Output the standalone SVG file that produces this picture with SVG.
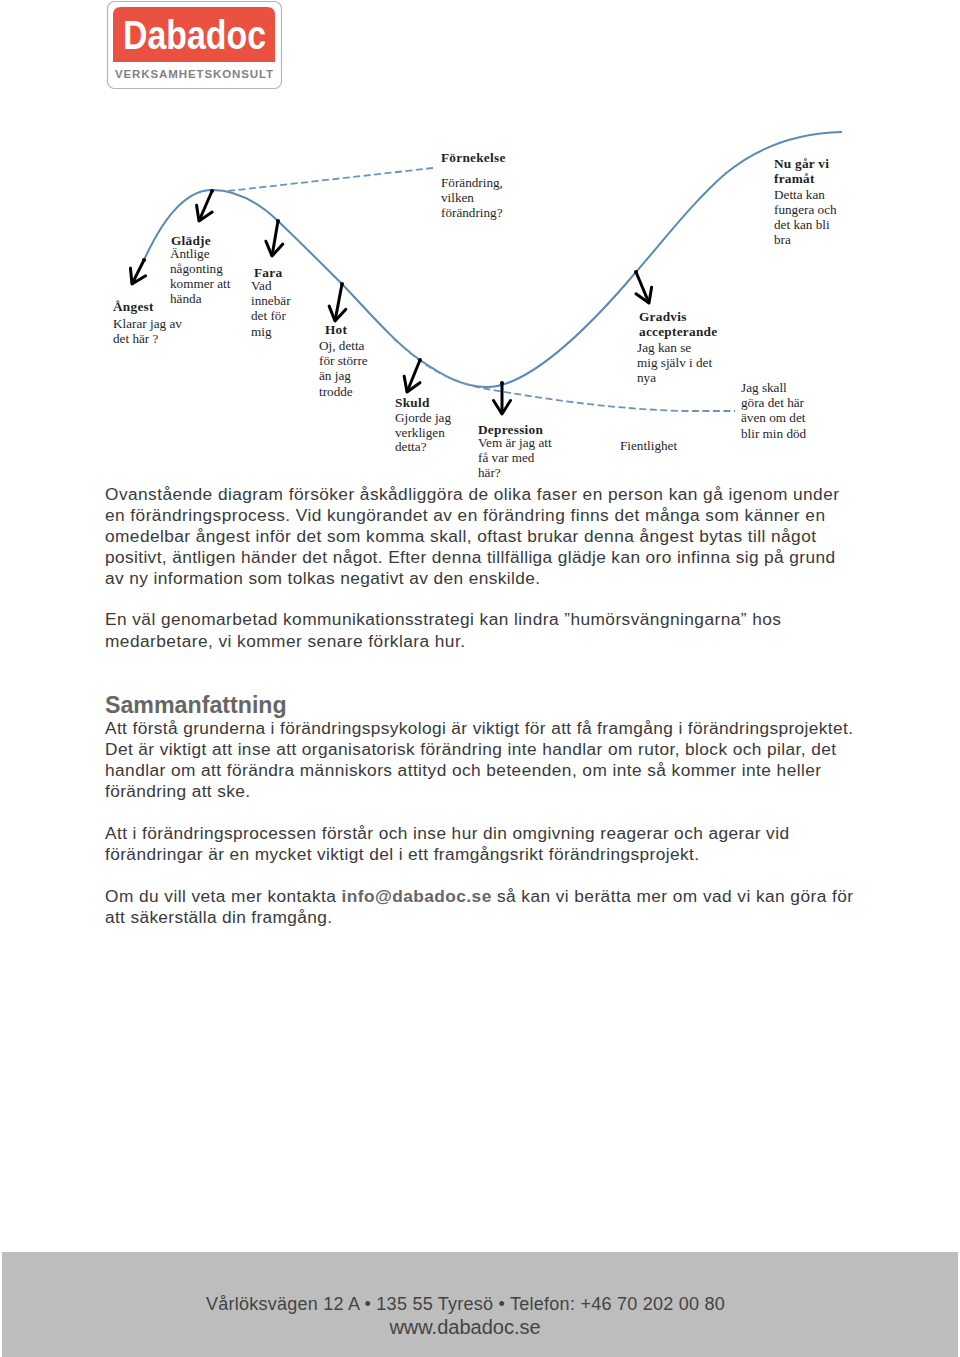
<svg xmlns="http://www.w3.org/2000/svg" width="960" height="1357" viewBox="0 0 960 1357">
<style>
text{font-family:"Liberation Sans",Arial,sans-serif}
.d text{font-family:"Liberation Serif","DejaVu Serif",serif;font-size:13.2px;fill:#1f1f1f}
.d .b{font-weight:bold;font-size:13.3px;letter-spacing:.25px}
.p text{font-size:17.3px;fill:#3a3a3a}
.p .h{font-size:23.2px;font-weight:bold;fill:#666}
.p .m{font-weight:bold;fill:#666}
.curve{fill:none;stroke:#5b88b5;stroke-width:2}
.dash{fill:none;stroke:#6f94bb;stroke-width:1.800;stroke-dasharray:7 3.500}
.arr{fill:none;stroke:#000;stroke-width:3;marker-end:url(#head);marker-start:url(#dot)}
</style>
<defs>
<marker id="head" markerUnits="userSpaceOnUse" markerWidth="30" markerHeight="30" refX="20" refY="15" orient="auto"><path d="M6.500 6.500L20 15L6.500 23.500" fill="none" stroke="#000" stroke-width="3" stroke-linejoin="round" stroke-linecap="round"/></marker>
<marker id="dot" markerUnits="userSpaceOnUse" markerWidth="8" markerHeight="8" refX="4" refY="4"><circle cx="4" cy="4" r="2" fill="#000"/></marker>
</defs>
<rect width="960" height="1357" fill="#fff"/>
<g id="logo">
<rect x="107.500" y="1.500" width="174" height="87" rx="7" fill="#fff" stroke="#b5b5b5" stroke-width="1.200"/>
<path d="M113 62V15Q113 7 121 7H267Q275 7 275 15V62Z" fill="#ea5140"/>
<text x="123" y="48.500" font-size="41" font-weight="bold" fill="#fff" textLength="143" lengthAdjust="spacingAndGlyphs">Dabadoc</text>
<text x="115" y="78" font-size="11.500" font-weight="bold" fill="#808285" textLength="158" lengthAdjust="spacing">VERKSAMHETSKONSULT</text>
</g>
<g id="connectors">
<path class="curve" d="M144 260C160 225 183 190 212 190C235 190 258 202 278 221C300 242 320 262 342 284C368 311 394 342 420 360C442 375 462 387 487 387C526 387 583 335 636 272C664 240 692 203 725 174C760 145 800 133 842 132"/>
<path class="dash" d="M228 191L433 168"/>
<path class="dash" d="M393 338C402 346 412 355 422 362C440 375 462 385 487 389C540 398 600 408 680 411L735 411"/>
<path class="arr" d="M144 260L132 284"/>
<path class="arr" d="M212 191L199 221"/>
<path class="arr" d="M278 221L272 256"/>
<path class="arr" d="M342 284L335 321"/>
<path class="arr" d="M420 360L407 392"/>
<path class="arr" d="M502 383L502 414"/>
<path class="arr" d="M636 272L649 303"/>
</g>
<g class="d">
<g id="angest"><text class="b" x="113" y="311">Ångest</text><text x="113" y="328">Klarar jag av</text><text x="113" y="343">det här ?</text></g>
<g id="gladje"><text class="b" x="171" y="245">Glädje</text><text x="170" y="258">Äntlige</text><text x="170" y="273">någonting</text><text x="170" y="288">kommer att</text><text x="170" y="303">hända</text></g>
<g id="fara"><text class="b" x="254" y="277">Fara</text><text x="251" y="290">Vad</text><text x="251" y="305">innebär</text><text x="251" y="320">det för</text><text x="251" y="336">mig</text></g>
<g id="hot"><text class="b" x="325" y="334">Hot</text><text x="319" y="350">Oj, detta</text><text x="319" y="365">för större</text><text x="319" y="380">än jag</text><text x="319" y="396">trodde</text></g>
<g id="skuld"><text class="b" x="395" y="407">Skuld</text><text x="395" y="422">Gjorde jag</text><text x="395" y="437">verkligen</text><text x="395" y="451">detta?</text></g>
<g id="depression"><text class="b" x="478" y="434">Depression</text><text x="478" y="447">Vem är jag att</text><text x="478" y="462">få var med</text><text x="478" y="477">här?</text></g>
<g id="fornekelse"><text class="b" x="441" y="162">Förnekelse</text><text x="441" y="187">Förändring,</text><text x="441" y="202">vilken</text><text x="441" y="217">förändring?</text></g>
<g id="fientlighet"><text x="620" y="450">Fientlighet</text></g>
<g id="gradvis"><text class="b" x="639" y="321">Gradvis</text><text class="b" x="639" y="336">accepterande</text><text x="637" y="352">Jag kan se</text><text x="637" y="367">mig själv i det</text><text x="637" y="382">nya</text></g>
<g id="jagskall"><text x="741" y="392">Jag skall</text><text x="741" y="407">göra det här</text><text x="741" y="422">även om det</text><text x="741" y="438">blir min död</text></g>
<g id="framat"><text class="b" x="774" y="168">Nu går vi</text><text class="b" x="774" y="183">framåt</text><text x="774" y="199">Detta kan</text><text x="774" y="214">fungera och</text><text x="774" y="229">det kan bli</text><text x="774" y="244">bra</text></g>
</g>
<g class="p">
<text x="105" y="500" textLength="734">Ovanstående diagram försöker åskådliggöra de olika faser en person kan gå igenom under</text>
<text x="105" y="521" textLength="720">en förändringsprocess. Vid kungörandet av en förändring finns det många som känner en</text>
<text x="105" y="542" textLength="711">omedelbar ångest inför det som komma skall, oftast brukar denna ångest bytas till något</text>
<text x="105" y="563" textLength="730">positivt, äntligen händer det något. Efter denna tillfälliga glädje kan oro infinna sig på grund</text>
<text x="105" y="584" textLength="435">av ny information som tolkas negativt av den enskilde.</text>
<text x="105" y="625" textLength="676">En väl genomarbetad kommunikationsstrategi kan lindra ”humörsvängningarna” hos</text>
<text x="105" y="647" textLength="360">medarbetare, vi kommer senare förklara hur.</text>
<text class="h" x="105" y="713">Sammanfattning</text>
<text x="105" y="734" textLength="748">Att förstå grunderna i förändringspsykologi är viktigt för att få framgång i förändringsprojektet.</text>
<text x="105" y="755" textLength="731">Det är viktigt att inse att organisatorisk förändring inte handlar om rutor, block och pilar, det</text>
<text x="105" y="776" textLength="716">handlar om att förändra människors attityd och beteenden, om inte så kommer inte heller</text>
<text x="105" y="797" textLength="145">förändring att ske.</text>
<text x="105" y="839" textLength="684">Att i förändringsprocessen förstår och inse hur din omgivning reagerar och agerar vid</text>
<text x="105" y="860" textLength="594">förändringar är en mycket viktigt del i ett framgångsrikt förändringsprojekt.</text>
<text x="105" y="902" textLength="748">Om du vill veta mer kontakta <tspan class="m">info@dabadoc.se</tspan> så kan vi berätta mer om vad vi kan göra för</text>
<text x="105" y="923" textLength="227">att säkerställa din framgång.</text>
</g>
<g id="footer">
<rect x="2" y="1252" width="956" height="105" fill="#bdbdbd"/>
<text x="465.500" y="1310" font-size="18" fill="#444" text-anchor="middle" letter-spacing=".25">Vårlöksvägen 12 A • 135 55 Tyresö • Telefon: +46 70 202 00 80</text>
<text x="465" y="1334" font-size="20" fill="#444" text-anchor="middle">www.dabadoc.se</text>
</g>
</svg>
